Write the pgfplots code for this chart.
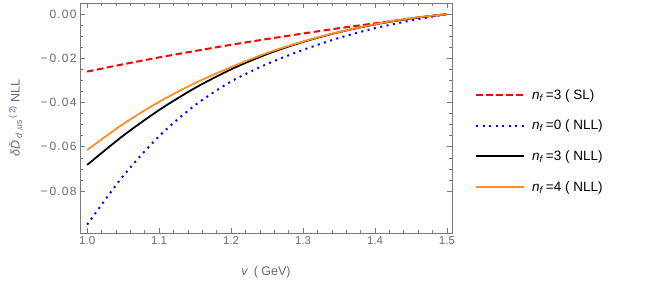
\documentclass[border=0pt]{standalone}
\usepackage{fontspec}
\setmainfont{Liberation Sans}
\usepackage{pgfplots}
\pgfplotsset{compat=1.18}
\definecolor{lab}{rgb}{0.40,0.42,0.47}
\definecolor{fr}{gray}{0.47}
\definecolor{myorange}{rgb}{1,0.55,0.15}
\begin{document}
\begin{tikzpicture}
\useasboundingbox (-80bp,-51bp) rectangle (565bp,233bp);
\begin{axis}[
 at={(0,0)}, anchor=south west,
 scale only axis, width=372bp, height=230bp,
 xmin=0.99, xmax=1.507, ymin=-0.099, ymax=0.005,
 xtick={1,1.1,1.2,1.3,1.4,1.5}, xticklabels={1.0,1.1,1.2,1.3,1.4,1.5},
 ytick={-0.08,-0.06,-0.04,-0.02,0},
 yticklabels={−\,0.08,−\,0.06,−\,0.04,−\,0.02,0.00},
 minor x tick num=4, minor y tick num=3,
 tick pos=both, tick align=inside,
 major tick length=5bp, minor tick length=3bp,
 axis line style={fr, line width=0.7bp},
 tick style={fr, line width=0.6bp},
 xticklabel style={font=\fontsize{11.5bp}{13bp}\selectfont, text=lab},
 yticklabel style={font=\fontsize{12bp}{14bp}\selectfont\addfontfeatures{LetterSpace=10}, text=lab},
 xlabel={\textit{v}\, ( GeV)},
 ylabel={\textit{δ}\kern0.5pt\textit{\={D}}\textsubscript{\textit{d}\,,us}\textsuperscript{\,(\,2)} NLL},
 every axis x label/.style={at={(axis description cs:0.5,0)}, yshift=-39bp, anchor=center,
   font=\fontsize{12.5bp}{14bp}\selectfont, text=lab},
 every axis y label/.style={at={(axis description cs:0,0.5)}, xshift=-64bp, rotate=90, anchor=center,
   font=\fontsize{12.5bp}{14bp}\selectfont, text=lab},
 legend style={at={(1,0.4)}, anchor=west, xshift=20bp, draw=none, fill=none,
   font=\fontsize{13.5bp}{15bp}\selectfont, row sep=15.5bp},
 legend cell align=left,
 legend image code/.code={\draw[#1] (0bp,0bp) -- (48bp,0bp); \path (53bp,0bp);},
]
\addplot[red, line width=2bp, dash pattern=on 6.5bp off 3.5bp, smooth] coordinates {
(1.0,-0.0260) (1.05,-0.0227) (1.1,-0.0196) (1.15,-0.0167) (1.2,-0.0139) (1.25,-0.0113)
(1.3,-0.0088) (1.35,-0.0064) (1.4,-0.0042) (1.45,-0.0020) (1.5,0)};
\addlegendentry{\textit{n}\textsubscript{\textit{f}}\,=3 ( SL)}
\addplot[blue, line width=2bp, dash pattern=on 2bp off 4.5bp, smooth] coordinates {
(1.0,-0.0952) (1.05,-0.0732) (1.1,-0.0552) (1.15,-0.0412) (1.2,-0.0305) (1.25,-0.0226)
(1.3,-0.0162) (1.35,-0.0108) (1.4,-0.0064) (1.45,-0.0029) (1.5,0)};
\addlegendentry{\textit{n}\textsubscript{\textit{f}}\,=0 ( NLL)}
\addplot[black, line width=1.8bp, smooth] coordinates {
(1.0,-0.0682) (1.05,-0.0550) (1.1,-0.0434) (1.15,-0.0334) (1.2,-0.0250) (1.25,-0.0181)
(1.3,-0.0126) (1.35,-0.0082) (1.4,-0.0047) (1.45,-0.0020) (1.5,0)};
\addlegendentry{\textit{n}\textsubscript{\textit{f}}\,=3 ( NLL)}
\addplot[myorange, line width=1.8bp, smooth] coordinates {
(1.0,-0.0615) (1.05,-0.0497) (1.1,-0.0397) (1.15,-0.0312) (1.2,-0.0240) (1.25,-0.0176)
(1.3,-0.0124) (1.35,-0.0081) (1.4,-0.0046) (1.45,-0.0019) (1.5,0)};
\addlegendentry{\textit{n}\textsubscript{\textit{f}}\,=4 ( NLL)}
\end{axis}
\end{tikzpicture}
\end{document}
